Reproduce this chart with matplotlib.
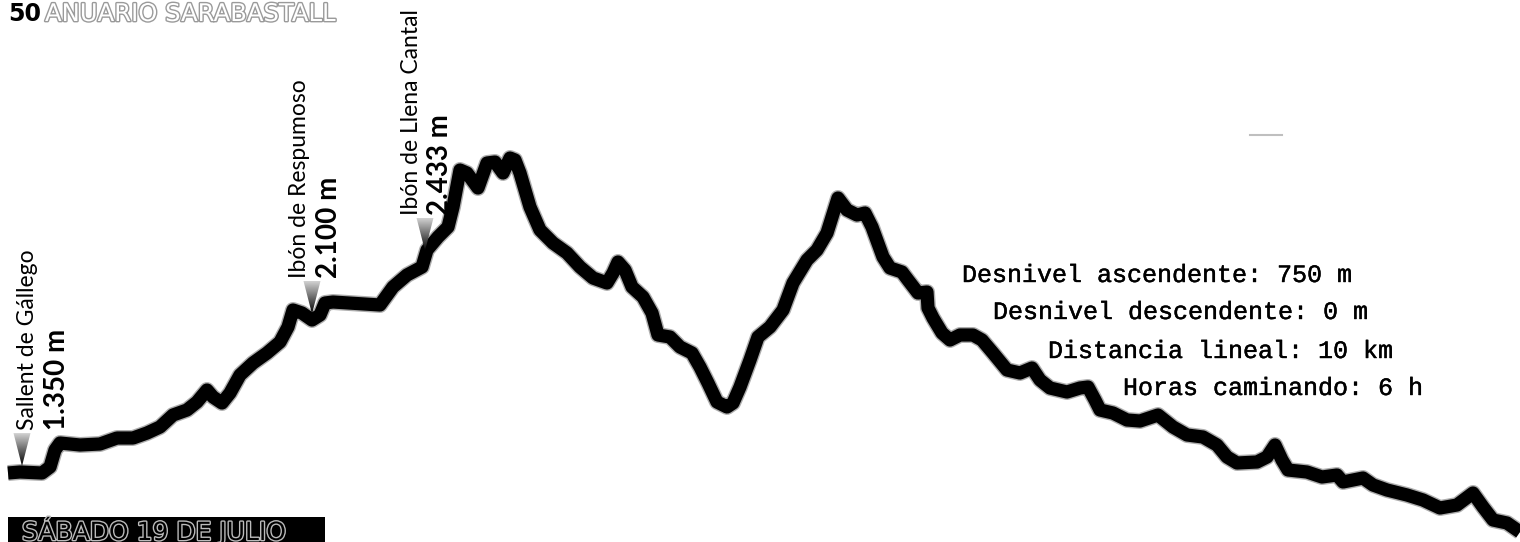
import matplotlib
matplotlib.use('Agg')
import matplotlib.pyplot as plt
import matplotlib.patheffects as pe
import numpy as np
from matplotlib.patches import Polygon, Rectangle

# --- profile (distance along route, height in image rows) ---
dist = [8, 20, 42, 50, 55, 60, 80, 100, 117, 133, 147, 160, 173, 187, 197, 207, 213, 222, 230,
        240, 253, 267, 280, 288, 293, 302, 312, 320, 325, 333, 380, 393, 407, 422, 427, 438, 448,
        453, 460, 467, 478, 487, 495, 503, 510, 515, 520, 530, 540, 553, 567, 580, 593, 607, 613,
        618, 625, 632, 643, 652, 658, 670, 680, 692, 700, 708, 717, 727, 733, 740, 750, 758, 770,
        783, 793, 807, 817, 827, 838, 847, 857, 865, 872, 883, 890, 902, 908, 918, 927, 928, 933,
        942, 950, 960, 973, 982, 993, 1007, 1020, 1032, 1040, 1050, 1067, 1080, 1088, 1095, 1100,
        1113, 1127, 1140, 1158, 1173, 1187, 1203, 1217, 1227, 1237, 1257, 1267, 1275, 1282, 1288,
        1307, 1322, 1337, 1343, 1363, 1373, 1387, 1407, 1423, 1440, 1457, 1473, 1483, 1493, 1507, 1520]
elev = [473, 472, 473, 467, 450, 443, 445, 444, 438, 438, 433, 427, 415, 410, 402, 390, 397, 403, 393,
        375, 363, 353, 342, 327, 310, 313, 320, 315, 303, 302, 305, 287, 275, 267, 250, 237, 227,
        207, 170, 173, 188, 163, 162, 173, 158, 160, 173, 207, 230, 243, 253, 267, 278, 283, 273,
        262, 270, 287, 297, 313, 335, 337, 347, 353, 367, 383, 402, 407, 403, 387, 360, 337, 327,
        310, 283, 260, 250, 233, 198, 210, 215, 213, 227, 257, 268, 272, 280, 293, 292, 308, 318,
        333, 340, 335, 335, 340, 353, 370, 373, 368, 380, 388, 392, 388, 387, 400, 410,
        413, 420, 421, 415, 427, 435, 437, 445, 457, 463, 462, 457, 445, 460, 470,
        472, 477, 475, 482, 478, 485, 490, 495, 500, 508, 505, 493, 507, 520, 523, 532]

# waypoints
wp_dist = [22, 312, 425]
wp_names = ['Sallent de Gállego', 'Ibón de Respumoso', 'Ibón de Llena Cantal']
wp_heights = ['1.350 m', '2.100 m', '2.433 m']

stats = ['Desnivel ascendente: 750 m', 'Desnivel descendente: 0 m',
         'Distancia lineal: 10 km', 'Horas caminando: 6 h']

# layout (label placement relative to the waypoint tip)
name_dx = [6, -12, -13]
value_dx = [35, 17, 15]
stats_x = [962, 993, 1048, 1123]
stats_y = [275, 312, 351, 388]

fig = plt.figure(figsize=(15.2, 5.42), dpi=100)
ax = fig.add_axes([0, 0, 1, 1])
ax.set_xlim(0, 1520)
ax.set_ylim(542, 0)
ax.axis('off')

# profile line, grey fuzzy edge under a black core
ax.plot(dist, elev, color='#777777', lw=11.5, solid_joinstyle='round', solid_capstyle='butt', alpha=0.6)
ax.plot(dist, elev, color='black', lw=9.5, solid_joinstyle='round', solid_capstyle='butt')

# gradient triangles + labels
grad = np.linspace(0.82, 0.0, 64).reshape(-1, 1)
for i, d in enumerate(wp_dist):
    tip = np.interp(d, dist, elev) - 6
    top = tip - 33
    tri = Polygon([[d - 8.5, top], [d + 8.5, top], [d, tip]], closed=True,
                  facecolor='none', edgecolor='none')
    ax.add_patch(tri)
    im = ax.imshow(grad, cmap='gray', vmin=0, vmax=1, extent=[d - 9, d + 9, tip, top],
                   aspect='auto', zorder=3, interpolation='bilinear')
    im.set_clip_path(tri)
    ax.text(d + name_dx[i], top - 3, wp_names[i], rotation=90, rotation_mode='anchor',
            ha='left', va='center', fontsize=16.5, family='Lato', fontweight='normal', color='black')
    ax.text(d + value_dx[i], top - 3, wp_heights[i], rotation=90, rotation_mode='anchor',
            ha='left', va='center', fontsize=20, family='Lato', fontweight='bold', color='black')

for s, x, y in zip(stats, stats_x, stats_y):
    ax.text(x, y, s, ha='left', va='center', fontsize=18, family='Liberation Mono', color='black',
            path_effects=[pe.Stroke(linewidth=0.3, foreground='black'), pe.Normal()])

# header
ax.text(8, 14, '50', ha='left', va='center', fontsize=17, fontweight='bold', color='black')
ax.text(45, 14, 'ANUARIO SARABASTALL', ha='left', va='center', fontsize=17.5, color='white',
        path_effects=[pe.Stroke(linewidth=2, foreground='#9a9a9a'), pe.Normal()])

# faint smudge top right
ax.plot([1250, 1282], [135, 135], color='#b0b0b0', lw=1.5, alpha=0.8)

# date banner
ax.add_patch(Rectangle((8, 517), 317, 30, facecolor='black', edgecolor='none', zorder=4))
ax.text(22, 531, 'SÁBADO 19 DE JULIO', ha='left', va='center', fontsize=18, color='black', zorder=5,
        path_effects=[pe.Stroke(linewidth=2, foreground='#bbbbbb'), pe.Normal()])

fig.savefig('out.png', dpi=100, facecolor='white')
